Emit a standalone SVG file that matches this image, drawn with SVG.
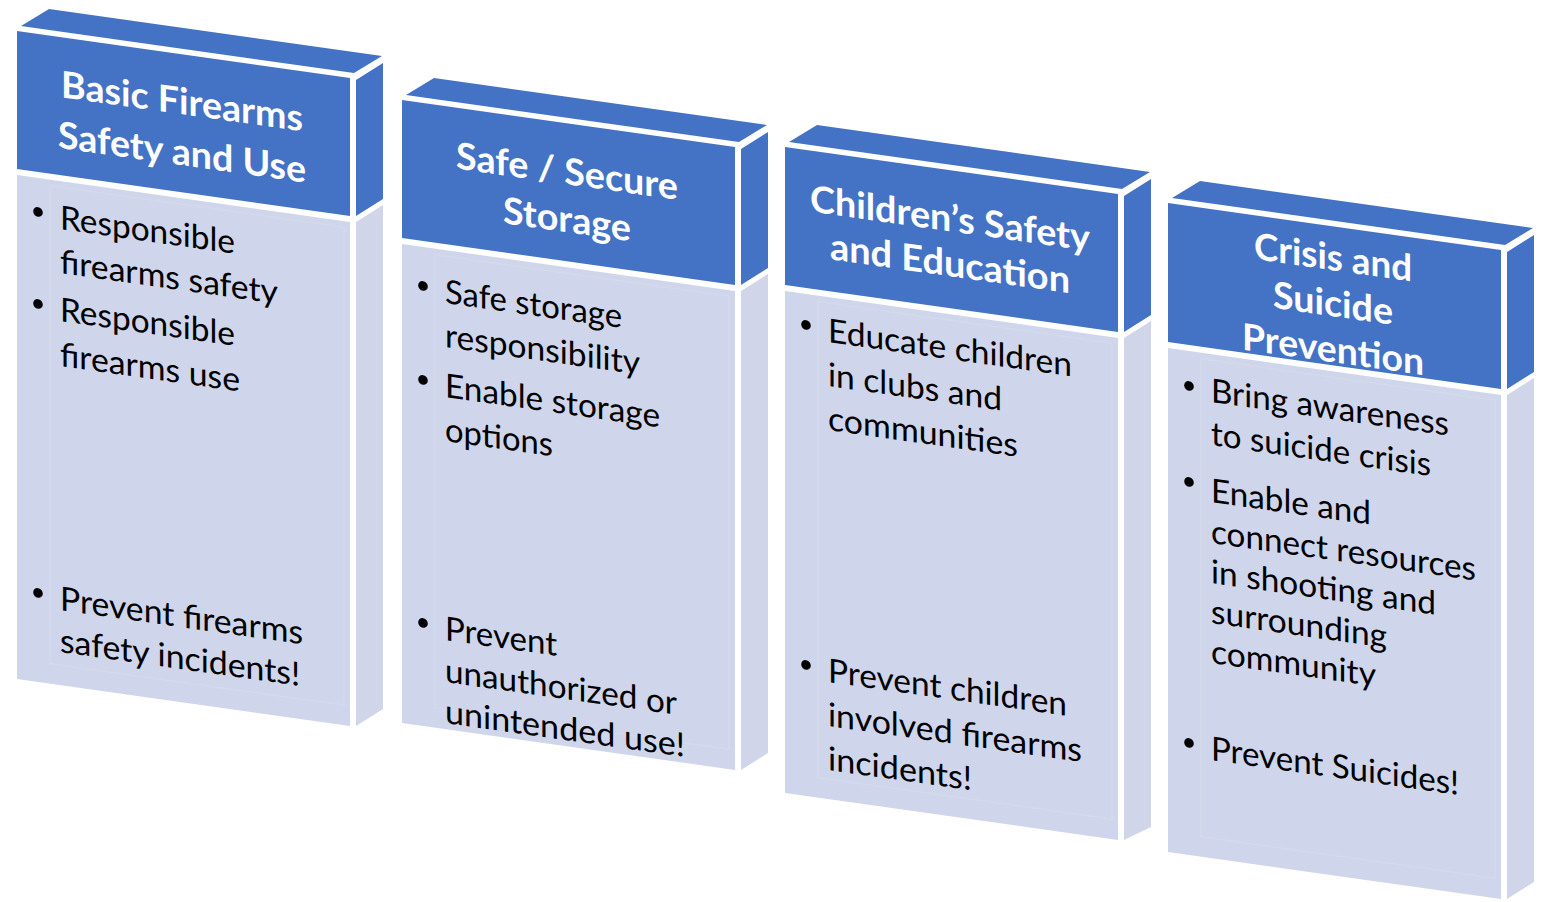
<svg xmlns="http://www.w3.org/2000/svg" width="1550" height="902" viewBox="0 0 1550 902">
<style>
.hdr{fill:#4472C4}
.body{fill:#CFD5EA}
.sideb{fill:#D0D5E9}
.bevel{fill:none;stroke:#D5D9EC;stroke-width:1.5}
.ht{font-family:Lato,"Open Sans","Liberation Sans",sans-serif;font-weight:700;font-size:37px;fill:#FFFFFF;text-anchor:middle}
.bt{font-family:Lato,"Open Sans","Liberation Sans",sans-serif;font-size:33px;fill:#000000}
.dot{fill:#000000}
</style>
<rect width="1550" height="902" fill="#FFFFFF"/>
<g id="connectors"/>

<g id="box1" transform="translate(17,31)">
  <polygon class="hdr" points="4,-5 337,42 365,25 32,-22"/>
  <polygon class="hdr" points="339,49 366,32 366,168 339,185"/>
  <polygon class="sideb" points="339,191 366,174 366,678 339,695"/>
  <g transform="skewY(8.03)">
    <rect class="hdr" x="0" y="0" width="333" height="138"/>
    <rect class="body" x="0" y="144" width="333" height="504"/>
    <rect class="bevel" x="33" y="150" width="294" height="478"/>
    <text class="ht" x="165" y="60" textLength="242" lengthAdjust="spacingAndGlyphs">Basic Firearms</text>
    <text class="ht" x="165" y="111" textLength="248" lengthAdjust="spacingAndGlyphs">Safety and Use</text>
    <circle class="dot" cx="21" cy="178" r="4.8"/>
    <text class="bt" x="43" y="192" textLength="175" lengthAdjust="spacingAndGlyphs">Responsible</text>
    <text class="bt" x="43" y="236" textLength="218" lengthAdjust="spacingAndGlyphs">firearms safety</text>
    <circle class="dot" cx="21" cy="270" r="4.8"/>
    <text class="bt" x="43" y="284" textLength="175" lengthAdjust="spacingAndGlyphs">Responsible</text>
    <text class="bt" x="43" y="329" textLength="180" lengthAdjust="spacingAndGlyphs">firearms use</text>
    <circle class="dot" cx="21" cy="559" r="4.8"/>
    <text class="bt" x="43" y="573" textLength="243" lengthAdjust="spacingAndGlyphs">Prevent firearms</text>
    <text class="bt" x="43" y="615" textLength="240" lengthAdjust="spacingAndGlyphs">safety incidents!</text>
  </g>
</g>

<g id="box2" transform="translate(402,100)">
  <polygon class="hdr" points="4,-5 337,42 365,25 32,-22"/>
  <polygon class="hdr" points="339,49 366,32 366,168 339,185"/>
  <polygon class="sideb" points="339,191 366,174 366,653 339,670"/>
  <g transform="skewY(8.03)">
    <rect class="hdr" x="0" y="0" width="333" height="138"/>
    <rect class="body" x="0" y="144" width="333" height="479"/>
    <rect class="bevel" x="33" y="150" width="294" height="453"/>
    <text class="ht" x="165" y="61" textLength="222" lengthAdjust="spacingAndGlyphs">Safe / Secure</text>
    <text class="ht" x="165" y="109" textLength="128" lengthAdjust="spacingAndGlyphs">Storage</text>
    <circle class="dot" cx="21" cy="183" r="4.8"/>
    <text class="bt" x="43" y="197" textLength="177" lengthAdjust="spacingAndGlyphs">Safe storage</text>
    <text class="bt" x="43" y="241" textLength="195" lengthAdjust="spacingAndGlyphs">responsibility</text>
    <circle class="dot" cx="21" cy="277" r="4.8"/>
    <text class="bt" x="43" y="291" textLength="215" lengthAdjust="spacingAndGlyphs">Enable storage</text>
    <text class="bt" x="43" y="335" textLength="108" lengthAdjust="spacingAndGlyphs">options</text>
    <circle class="dot" cx="21" cy="520" r="4.8"/>
    <text class="bt" x="43" y="534" textLength="112" lengthAdjust="spacingAndGlyphs">Prevent</text>
    <text class="bt" x="43" y="576" textLength="232" lengthAdjust="spacingAndGlyphs">unauthorized or</text>
    <text class="bt" x="43" y="617" textLength="240" lengthAdjust="spacingAndGlyphs">unintended use!</text>
  </g>
</g>

<g id="box3" transform="translate(785,147)">
  <polygon class="hdr" points="4,-5 337,42 365,25 32,-22"/>
  <polygon class="hdr" points="339,49 366,32 366,168 339,185"/>
  <polygon class="sideb" points="339,191 366,174 366,680 339,693"/>
  <g transform="skewY(8.03)">
    <rect class="hdr" x="0" y="0" width="333" height="138"/>
    <rect class="body" x="0" y="144" width="333" height="502"/>
    <rect class="bevel" x="33" y="150" width="294" height="476"/>
    <text class="ht" x="165" y="61" textLength="280" lengthAdjust="spacingAndGlyphs">Children’s Safety</text>
    <text class="ht" x="165" y="106" textLength="240" lengthAdjust="spacingAndGlyphs">and Education</text>
    <circle class="dot" cx="21" cy="175" r="4.8"/>
    <text class="bt" x="43" y="189" textLength="244" lengthAdjust="spacingAndGlyphs">Educate children</text>
    <text class="bt" x="43" y="233" textLength="174" lengthAdjust="spacingAndGlyphs">in clubs and</text>
    <text class="bt" x="43" y="277" textLength="190" lengthAdjust="spacingAndGlyphs">communities</text>
    <circle class="dot" cx="21" cy="515" r="4.8"/>
    <text class="bt" x="43" y="529" textLength="239" lengthAdjust="spacingAndGlyphs">Prevent children</text>
    <text class="bt" x="43" y="573" textLength="254" lengthAdjust="spacingAndGlyphs">involved firearms</text>
    <text class="bt" x="43" y="617" textLength="144" lengthAdjust="spacingAndGlyphs">incidents!</text>
  </g>
</g>

<g id="box4" transform="translate(1168,203)">
  <polygon class="hdr" points="4,-5 337,42 365,25 32,-22"/>
  <polygon class="hdr" points="339,49 366,32 366,169 339,186"/>
  <polygon class="sideb" points="339,192 366,175 366,679 339,696"/>
  <g transform="skewY(8.03)">
    <rect class="hdr" x="0" y="0" width="333" height="139"/>
    <rect class="body" x="0" y="145" width="333" height="504"/>
    <rect class="bevel" x="33" y="151" width="294" height="478"/>
    <text class="ht" x="165" y="44" textLength="158" lengthAdjust="spacingAndGlyphs">Crisis and</text>
    <text class="ht" x="165" y="90" textLength="120" lengthAdjust="spacingAndGlyphs">Suicide</text>
    <text class="ht" x="165" y="136" textLength="182" lengthAdjust="spacingAndGlyphs">Prevention</text>
    <circle class="dot" cx="21" cy="180" r="4.8"/>
    <text class="bt" x="43" y="193" textLength="238" lengthAdjust="spacingAndGlyphs">Bring awareness</text>
    <text class="bt" x="43" y="236" textLength="220" lengthAdjust="spacingAndGlyphs">to suicide crisis</text>
    <circle class="dot" cx="21" cy="276" r="4.8"/>
    <text class="bt" x="43" y="293" textLength="160" lengthAdjust="spacingAndGlyphs">Enable and</text>
    <text class="bt" x="43" y="334" textLength="265" lengthAdjust="spacingAndGlyphs">connect resources</text>
    <text class="bt" x="43" y="374" textLength="225" lengthAdjust="spacingAndGlyphs">in shooting and</text>
    <text class="bt" x="43" y="414" textLength="176" lengthAdjust="spacingAndGlyphs">surrounding</text>
    <text class="bt" x="43" y="454" textLength="165" lengthAdjust="spacingAndGlyphs">community</text>
    <circle class="dot" cx="21" cy="537" r="4.8"/>
    <text class="bt" x="43" y="551" textLength="248" lengthAdjust="spacingAndGlyphs">Prevent Suicides!</text>
  </g>
</g>
</svg>
